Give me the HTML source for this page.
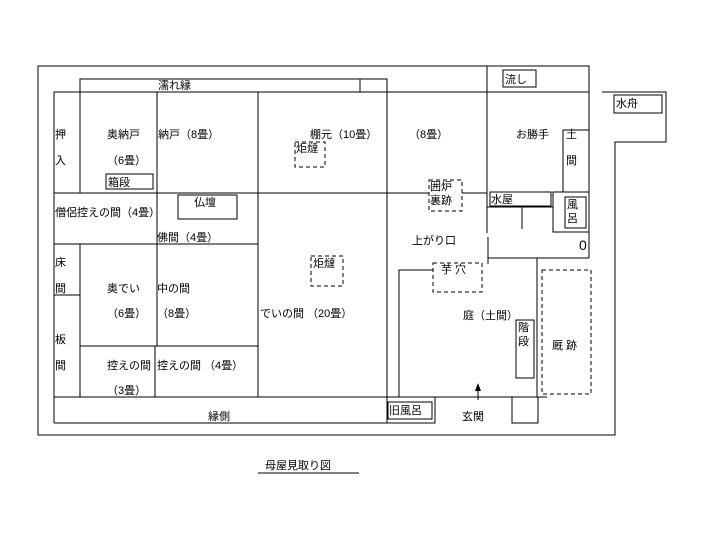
<!DOCTYPE html>
<html><head><meta charset="utf-8"><style>
html,body{margin:0;padding:0;background:#fff;}
svg{display:block}
text{font-family:"Liberation Sans","Noto Sans CJK JP",sans-serif;font-size:11px;fill:#000}
</style></head><body>
<svg width="720" height="540" viewBox="0 0 720 540" xmlns="http://www.w3.org/2000/svg">
<g fill="none" stroke="#000" stroke-width="1">
<polyline points="589,66 38,66 38,435 615,435 615,142 666,142 666,92 602,92"/>
<line x1="589" y1="66" x2="589" y2="258"/>
<rect x="487" y="66" width="102" height="26"/>
<rect x="503" y="70" width="33" height="17"/>
<rect x="614" y="95" width="48" height="18"/>
<rect x="80" y="79" width="307" height="13"/>
<line x1="360" y1="79" x2="360" y2="92"/>
<line x1="54" y1="92" x2="589" y2="92"/>
<line x1="54" y1="92" x2="54" y2="423"/>
<line x1="80" y1="92" x2="80" y2="193"/>
<line x1="157" y1="92" x2="157" y2="244"/>
<line x1="258" y1="92" x2="258" y2="397"/>
<line x1="387" y1="92" x2="387" y2="423"/>
<line x1="487" y1="66" x2="487" y2="233"/>
<line x1="54" y1="193" x2="429" y2="193"/>
<line x1="462" y1="193" x2="487" y2="193"/>
<rect x="106" y="174" width="47" height="15"/>
<rect x="178" y="195" width="59" height="24"/>
<line x1="54" y1="244" x2="258" y2="244"/>
<line x1="80" y1="244" x2="80" y2="397"/>
<line x1="54" y1="295" x2="80" y2="295"/>
<line x1="157" y1="244" x2="157" y2="346"/>
<line x1="80" y1="346" x2="258" y2="346"/>
<line x1="155" y1="346" x2="155" y2="397"/>
<line x1="54" y1="397" x2="387" y2="397"/>
<line x1="54" y1="423" x2="387" y2="423"/>
<rect x="387" y="397" width="48" height="26"/>
<rect x="388" y="402" width="44" height="17"/>
<polyline points="563,192 563,130 589,130"/>
<rect x="490" y="192" width="61" height="14"/>
<line x1="487" y1="207" x2="553" y2="207"/>
<line x1="522" y1="207" x2="522" y2="229"/>
<rect x="553" y="192" width="36" height="40"/>
<rect x="565" y="197" width="21" height="31"/>
<polyline points="488,237 488,258 589,258"/>
<line x1="488" y1="258" x2="488" y2="264"/>
<polyline points="399,397 399,270 433,270"/>
<line x1="537" y1="258" x2="537" y2="397"/>
<rect x="516" y="320" width="18" height="58"/>
<line x1="435" y1="397" x2="547" y2="397"/>
<rect x="512" y="397" width="26" height="26"/>
<line x1="478" y1="400" x2="478" y2="390"/>
<line x1="258" y1="473" x2="359" y2="473"/>
</g>
<polygon points="478,383 475,391 481,391" fill="#000"/>
<g fill="none" stroke="#000" stroke-width="1" stroke-dasharray="4,3">
<rect x="295" y="142" width="30" height="25"/>
<rect x="311" y="256" width="32" height="30"/>
<rect x="429" y="180" width="33" height="31"/>
<rect x="433" y="263" width="49" height="29"/>
<rect x="542" y="270" width="49" height="124"/>
</g>
<text x="158" y="89">濡れ縁</text>
<text x="55" y="138">押</text><text x="55" y="164">入</text>
<text x="107" y="138">奥納戸</text><text x="107" y="164">（6畳）</text>
<text x="108" y="186">箱段</text>
<text x="158" y="138">納戸（8畳）</text>
<text x="310" y="138">棚元（10畳）</text>
<text x="296" y="152">炬燵</text>
<text x="409" y="138">（8畳）</text>
<text x="516" y="138">お勝手</text>
<text x="566" y="138">土</text><text x="566" y="164">間</text>
<text x="505" y="83">流し</text>
<text x="616" y="107">水舟</text>
<text x="55" y="216">僧侶控えの間（4畳）</text>
<text x="194" y="206">仏壇</text>
<text x="157" y="241">佛間（4畳）</text>
<text x="430" y="190">囲炉</text><text x="430" y="204">裏跡</text>
<text x="491" y="203">水屋</text>
<text x="567" y="208">風</text><text x="567" y="222">呂</text>
<text x="579" y="250" style="font-size:14px">0</text>
<text x="412" y="244">上がり口</text>
<text x="441" y="273">芋 穴</text>
<text x="55" y="266">床</text><text x="55" y="292">間</text>
<text x="55" y="343">板</text><text x="55" y="369">間</text>
<text x="107" y="292">奥でい</text><text x="107" y="317">（6畳）</text>
<text x="157" y="292">中の間</text><text x="157" y="317">（8畳）</text>
<text x="313" y="267">炬燵</text>
<text x="260" y="317">でいの間 （20畳）</text>
<text x="107" y="369">控えの間</text><text x="107" y="394">（3畳）</text>
<text x="157" y="369">控えの間 （4畳）</text>
<text x="208" y="420">縁側</text>
<text x="389" y="414">旧風呂</text>
<text x="463" y="319">庭（土間）</text>
<text x="518" y="331">階</text><text x="518" y="345">段</text>
<text x="552" y="349">厩 跡</text>
<text x="462" y="420">玄関</text>
<text x="265" y="469">母屋見取り図</text>
</svg>
</body></html>
